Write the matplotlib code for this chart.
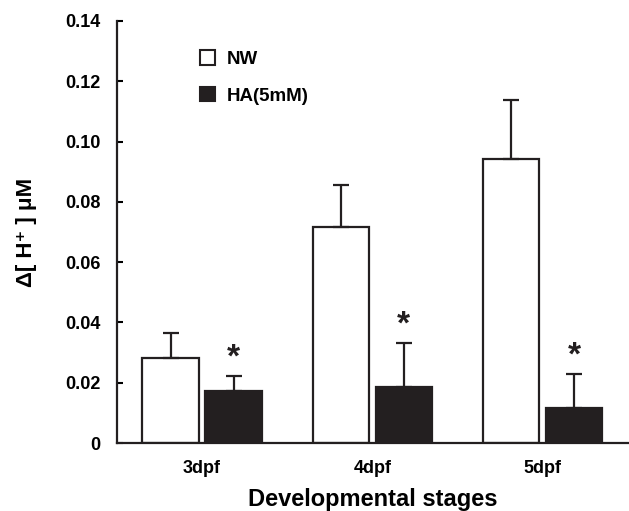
import matplotlib
matplotlib.use("Agg")
import matplotlib.pyplot as plt
import numpy as np
from matplotlib.patches import Patch

plt.rcParams['font.family'] = ['Liberation Sans', 'DejaVu Sans']
plt.rcParams['font.weight'] = 'bold'

# data
stages = ["3dpf", "4dpf", "5dpf"]
nw = np.array([0.0283, 0.0715, 0.0943])
nw_err = np.array([0.0081, 0.0142, 0.0196])
ha = np.array([0.0173, 0.0185, 0.0115])
ha_err = np.array([0.0049, 0.0146, 0.0114])
yticks = [0, 0.02, 0.04, 0.06, 0.08, 0.10, 0.12, 0.14]
ytick_labels = ["0", "0.02", "0.04", "0.06", "0.08", "0.10", "0.12", "0.14"]

fig = plt.figure(figsize=(6.29, 5.11), dpi=100)
ax = fig.add_axes([0.186, 0.133, 0.812, 0.826])

x = np.arange(len(stages))
w = 0.333
off = 0.185
ekw = dict(ecolor='#231f20', elinewidth=1.6, capsize=6, capthick=1.6)

ax.bar(x - off, nw, w, color='white', edgecolor='#231f20', linewidth=1.6,
       yerr=[np.zeros_like(nw), nw_err], error_kw=ekw, zorder=2)
ax.bar(x + off, ha, w, color='#231f20', edgecolor='#231f20', linewidth=1.6,
       yerr=[np.zeros_like(ha), ha_err], error_kw=ekw, zorder=2)

# significance marks
for xi, top in zip(x + off, ha + ha_err):
    ax.text(xi, top + 0.0008, "*", ha='center', va='bottom', fontsize=24,
            fontweight='bold', color='#231f20')

ax.set_xlim(-0.5, 2.5)
ax.set_ylim(0, 0.14)
ax.set_yticks(yticks)
ax.set_yticklabels(ytick_labels)
ax.set_xticks(x)
ax.set_xticklabels(stages)
ax.tick_params(axis='y', direction='in', length=4, width=1.5, labelsize=13, pad=12)
ax.tick_params(axis='x', length=0, labelsize=13, pad=12)
for s in ['top', 'right']:
    ax.spines[s].set_visible(False)
for s in ['left', 'bottom']:
    ax.spines[s].set_linewidth(1.6)
    ax.spines[s].set_color('#231f20')

ax.set_xlabel("Developmental stages", fontsize=17, fontweight='bold', labelpad=8)
ax.set_ylabel("Δ[ H⁺ ] μM", fontsize=16, fontweight='bold', labelpad=20)

handles = [Patch(facecolor='white', edgecolor='#231f20', linewidth=1.5, label='NW'),
           Patch(facecolor='#231f20', edgecolor='#231f20', linewidth=1.5, label='HA(5mM)')]
ax.legend(handles=handles, loc='upper left', bbox_to_anchor=(0.13, 0.97),
          frameon=False, fontsize=13.5, handlelength=0.8, handleheight=0.8,
          handletextpad=0.6, labelspacing=1.0)

fig.savefig("out.png", dpi=100)
